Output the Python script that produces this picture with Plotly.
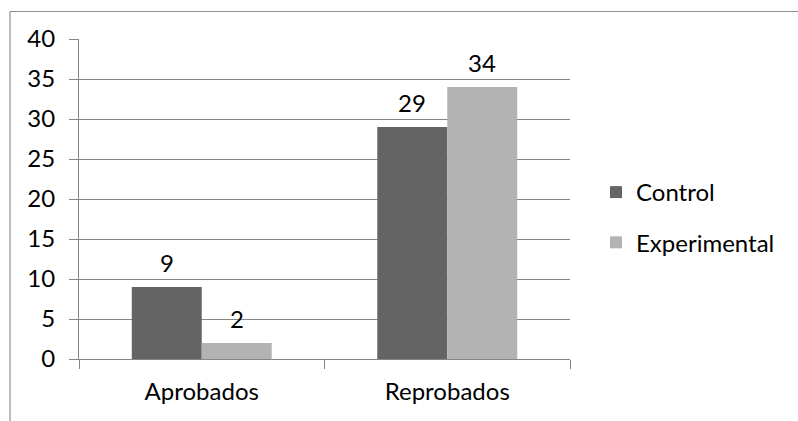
import plotly.graph_objects as go

# Data
categories = ["Aprobados", "Reprobados"]
series_names = ["Control", "Experimental"]
control_values = [9, 29]
experimental_values = [2, 34]
y_ticks = [0, 5, 10, 15, 20, 25, 30, 35, 40]

colors = {"Control": "#646464", "Experimental": "#b3b3b3"}
grid_color = "#868686"
font_family = "Lato, 'Open Sans', sans-serif"
font_size = 24
bargap = 0.43

W, H = 798, 421
margin = dict(l=79, r=228, t=39, b=62)

fig = go.Figure()
series = {"Control": control_values, "Experimental": experimental_values}
for name in series_names:
    fig.add_trace(go.Bar(
        x=categories,
        y=series[name],
        name=name,
        legendgroup=name,
        marker=dict(color=colors[name], line=dict(width=0)),
    ))

# Value labels above each bar, placed at each bar's centre in category units
n = len(series_names)
bar_w = (1 - bargap) / n
annotations = []
for si, name in enumerate(series_names):
    offset = -(1 - bargap) / 2 + bar_w * (si + 0.5)
    for ci, v in enumerate(series[name]):
        annotations.append(dict(
            x=ci + offset, y=v, xref="x", yref="y",
            text=str(v), showarrow=False,
            yanchor="middle", yshift=25,
            font=dict(family=font_family, size=font_size, color="#000000"),
        ))

# Chart frame (top and left edges)
pw = W - margin["l"] - margin["r"]
ph = H - margin["t"] - margin["b"]
def px_x(px):
    return (px - margin["l"]) / pw
def px_y(py):
    return (H - margin["b"] - py) / ph

frame_color = "#8e8e8e"
shapes = [
    dict(type="line", xref="paper", yref="paper",
         x0=px_x(10), x1=px_x(W + 2), y0=px_y(11.5), y1=px_y(11.5),
         line=dict(color=frame_color, width=1.2)),
    dict(type="line", xref="paper", yref="paper",
         x0=px_x(10), x1=px_x(10), y0=px_y(11.5), y1=px_y(H + 2),
         line=dict(color=frame_color, width=1.2)),
]

fig.update_layout(
    width=W, height=H,
    margin=margin,
    paper_bgcolor="white",
    plot_bgcolor="white",
    barmode="group",
    bargap=bargap,
    bargroupgap=0,
    font=dict(family=font_family, size=font_size, color="#000000"),
    showlegend=True,
    legend=dict(
        x=px_x(596), xanchor="left",
        y=px_y(217.5), yanchor="middle",
        traceorder="grouped",
        tracegroupgap=16,
        itemwidth=30,
        font=dict(family=font_family, size=font_size, color="#000000"),
        bgcolor="rgba(0,0,0,0)",
    ),
    annotations=annotations,
    shapes=shapes,
)

fig.update_xaxes(
    type="category",
    showline=True, linecolor=grid_color, linewidth=1,
    ticks="outside", tickson="boundaries", ticklen=9,
    tickcolor=grid_color, tickwidth=1,
    ticklabelstandoff=11,
    showgrid=False,
    tickfont=dict(family=font_family, size=font_size, color="#000000"),
)
fig.update_yaxes(
    range=[0, 40],
    tickvals=y_ticks,
    showline=True, linecolor=grid_color, linewidth=1,
    ticks="outside", ticklen=9, tickcolor=grid_color, tickwidth=1,
    ticklabelstandoff=9,
    showgrid=True, gridcolor=grid_color, gridwidth=1,
    zeroline=False,
    tickfont=dict(family=font_family, size=font_size, color="#000000"),
)

fig.write_html("out.html")
